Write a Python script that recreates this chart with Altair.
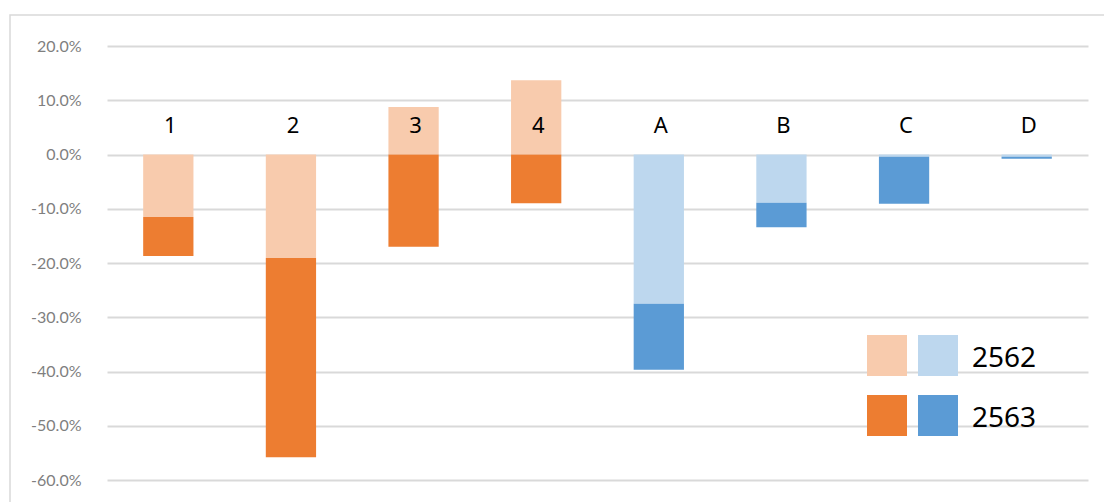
import altair as alt
import pandas as pd

# Categories and the two yearly segments (fractions), stacked from zero
categories = ["1", "2", "3", "4", "A", "B", "C", "D"]
seg_2562 = [-0.115, -0.191, 0.0875, 0.137, -0.275, -0.089, -0.004, -0.004]
seg_2563 = [-0.072, -0.367, -0.170, -0.090, -0.122, -0.045, -0.087, -0.004]
years = ["2562", "2563"]
label_level = 0.052
tick_values = [-0.6, -0.5, -0.4, -0.3, -0.2, -0.1, 0.0, 0.1, 0.2]

rows = []
for i, cat in enumerate(categories):
    group = "orange" if i < 4 else "blue"
    for year, vals in zip(years, (seg_2562, seg_2563)):
        rows.append({"cat": cat, "year": year, "key": group + year, "value": vals[i]})
bars_df = pd.DataFrame(rows)
labels_df = pd.DataFrame({"cat": categories, "value": [label_level] * len(categories)})

color_domain = ["orange2562", "orange2563", "blue2562", "blue2563"]
color_range = ["#F8CBAD", "#ED7D31", "#BDD7EE", "#5B9BD5"]

W, H = 981, 434
FONT = "Noto Sans"

x_enc = alt.X(
    "cat:N",
    sort=categories,
    scale=alt.Scale(paddingInner=0.59, paddingOuter=0.295),
    axis=None,
)
y_scale = alt.Scale(domain=[-0.6, 0.2], nice=False, zero=False)
y_axis = alt.Axis(
    values=tick_values,
    labelExpr="replace(format(datum.value, '.1%'), '\u2212', '-')",
    grid=True,
    gridColor="#d9d9d9",
    gridOpacity=1,
    gridWidth=1.8,
    domain=False,
    ticks=False,
    labelPadding=26,
    labelFont="Lato",
    labelFontSize=16,
    labelColor="#7f7f7f",
    title=None,
)

bars = alt.Chart(bars_df).mark_bar().encode(
    x=x_enc,
    y=alt.Y("value:Q", stack="zero", scale=y_scale, axis=y_axis),
    color=alt.Color("key:N", scale=alt.Scale(domain=color_domain, range=color_range), legend=None),
    order=alt.Order("year:N", sort="ascending"),
)

labels = alt.Chart(labels_df).mark_text(
    font=FONT, fontSize=22, color="#000000", baseline="middle", align="center", dx=2
).encode(
    x=x_enc,
    y=alt.Y("value:Q", scale=y_scale, axis=y_axis),
    text="cat:N",
)

one = alt.Data(values=[{}])

# Legend swatches: two per row (orange and blue), one row per year
swatches = []
row_tops = [289, 349]
col_lefts = [760, 811]
for r, year in enumerate(years):
    for c, group in enumerate(["orange", "blue"]):
        swatches.append(
            alt.Chart(one).mark_rect().encode(
                x=alt.value(col_lefts[c]),
                x2=alt.value(col_lefts[c] + 40),
                y=alt.value(row_tops[r]),
                y2=alt.value(row_tops[r] + 41),
                color=alt.value(color_range[color_domain.index(group + year)]),
            )
        )
    swatches.append(
        alt.Chart(one).mark_text(
            text=year, font=FONT, fontSize=28, color="#000000", align="left", baseline="middle"
        ).encode(x=alt.value(865), y=alt.value(row_tops[r] + 24))
    )

# Outer frame line around the chart area
frame = alt.Chart(one).mark_rect(fill="transparent", stroke="#d9d9d9", strokeWidth=1.5).encode(
    x=alt.value(-97), x2=alt.value(W + 40), y=alt.value(-31), y2=alt.value(H + 40)
)

chart = alt.layer(bars, labels, frame, *swatches).properties(
    width=W,
    height=H,
    padding={"left": 107, "top": 46, "right": 16, "bottom": 22},
    autosize=alt.AutoSizeParams(type="none"),
    background="#ffffff",
).configure_view(strokeWidth=0, stroke="transparent")

chart.save("out.html", embed_options={"renderer": "svg", "actions": False})
